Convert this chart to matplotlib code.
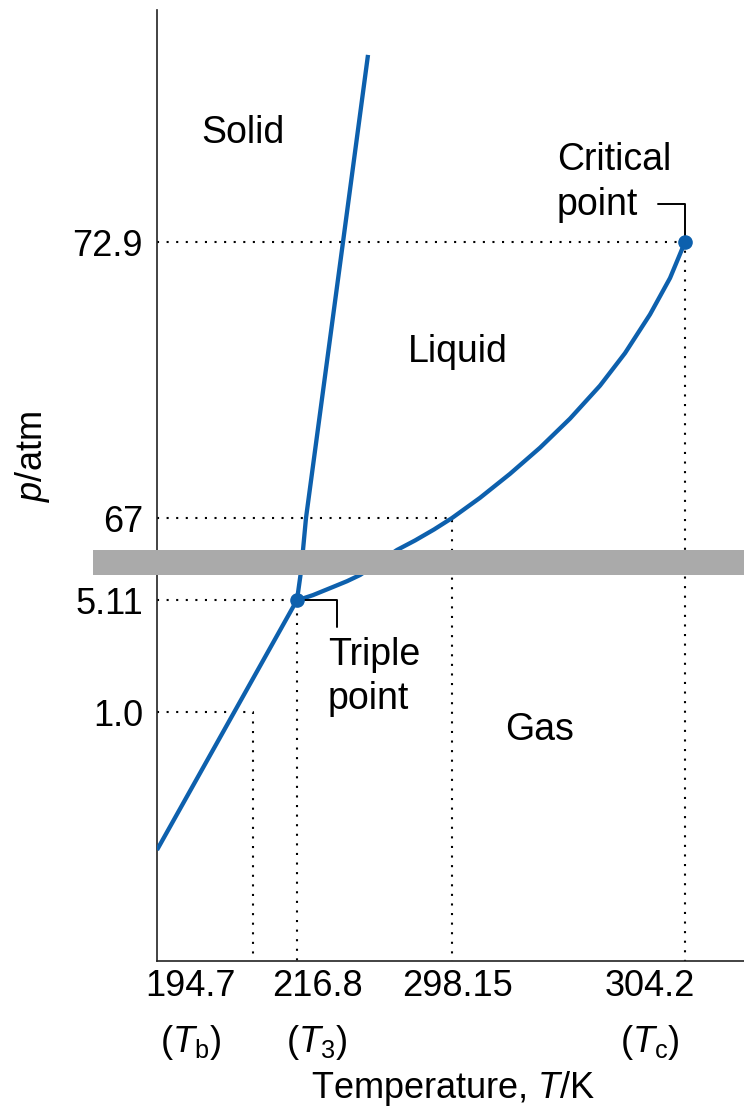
import numpy as np
import matplotlib
matplotlib.use('Agg')
import matplotlib.pyplot as plt
import matplotlib.transforms as mtransforms
from matplotlib.patches import Rectangle

plt.rcParams['font.family'] = ['Liberation Sans', 'DejaVu Sans']
plt.rcParams['mathtext.fontset'] = 'custom'
plt.rcParams['mathtext.rm'] = 'Liberation Sans'
plt.rcParams['mathtext.it'] = 'Liberation Sans:italic'

# characteristic points of CO2 (K, atm)
T_b, p_b = 194.7, 1.0
T_3, p_3 = 216.8, 5.11
T_room, p_room = 298.15, 67.0
T_c, p_c = 304.2, 72.9

# phase boundaries
sub_T = [146.5, 185.3, 216.8]
sub_p = [0.446, 1.0, 5.11]

melt_T = [216.8, 218.64, 219.95, 221.52, 240.94, 254.06]
melt_p = [5.11, 6.03, 66.32, 67.0, 72.9, 76.9]

vap_T = [216.8, 220.5, 225.2, 235.7, 243.0, 249.9,
         269.28, 278.73, 288.70, 298.15, 298.877, 299.656, 300.435,
         301.214, 301.993, 302.642, 303.291, 303.811, 304.2]
vap_p = [5.11, 5.18, 5.29, 5.59, 5.80, 6.03,
         66.32, 66.522, 66.756, 67.0, 67.432, 67.945, 68.503,
         69.125, 69.830, 70.525, 71.352, 72.130, 72.9]

# tick values and labels
xtick_vals = [T_b, T_3, T_room, T_c]
xtick_top = ['194.7', '216.8', '298.15', '304.2']
xtick_sub = ['($T_{\\mathrm{b}}$)', '($T_{\\mathrm{3}}$)', '', '($T_{\\mathrm{c}}$)']
ytick_vals = [p_b, p_3, p_room, p_c]
ytick_labels = ['1.0', '5.11', '67', '72.9']

# schematic (non-linear) axes: knot values and where they sit on the axis
T_knots = [146.5, 194.7, 216.8, 298.15, 304.2, 305.7]
T_frac = [0.0, 0.1635, 0.2385, 0.5026, 0.8995, 1.0]
p_knots = [0.0, 1.0, 5.11, 6.03, 66.32, 67.0, 72.9, 77.86]
p_frac = [0.0, 0.2618, 0.3796, 0.4059, 0.4322, 0.4658, 0.7560, 1.0]
break_lo, break_hi = 6.03, 66.32

blue = '#0d60ad'

fig = plt.figure(figsize=(7.44, 11.11), dpi=100)
ax = fig.add_axes([157 / 744, 150 / 1111, 587 / 744, 951 / 1111])

ax.set_xscale('function', functions=(lambda v: np.interp(v, T_knots, T_frac),
                                     lambda f: np.interp(f, T_frac, T_knots)))
ax.set_yscale('function', functions=(lambda v: np.interp(v, p_knots, p_frac),
                                     lambda f: np.interp(f, p_frac, p_knots)))
ax.set_xlim(T_knots[0], T_knots[-1])
ax.set_ylim(p_knots[0], p_knots[-1])

# dotted guide lines
for T, p in zip(xtick_vals, ytick_vals):
    ax.plot([T_knots[0], T, T], [p, p, p_knots[0]], color='black', lw=1.5,
            linestyle=(0, (1, 3.6)), zorder=1, clip_on=False)

ax.plot(sub_T, sub_p, color=blue, lw=3.1, zorder=3, solid_capstyle='butt')
ax.plot(melt_T, melt_p, color=blue, lw=3.1, zorder=3, solid_capstyle='butt')
ax.plot(vap_T, vap_p, color=blue, lw=3.1, zorder=3, solid_capstyle='butt',
        solid_joinstyle='round')
ax.plot([T_3, T_c], [p_3, p_c], 'o', color=blue, ms=9.5, zorder=5, clip_on=False)

# leader lines
ax.annotate('', xy=(T_c, p_c), xytext=(-27, 38), textcoords='offset pixels',
            arrowprops=dict(arrowstyle='-', lw=1.4, color='black', shrinkA=0, shrinkB=0,
                            connectionstyle='angle,angleA=0,angleB=90,rad=0'), zorder=4)
ax.annotate('', xy=(T_3, p_3), xytext=(40, -27), textcoords='offset pixels',
            arrowprops=dict(arrowstyle='-', lw=1.4, color='black', shrinkA=0, shrinkB=0,
                            connectionstyle='angle,angleA=90,angleB=0,rad=0'), zorder=4)

# region labels
ax.text(0.1465, 0.8707, 'Solid', transform=ax.transAxes, fontsize=27, ha='center', va='center')
ax.text(0.5128, 0.6404, 'Liquid', transform=ax.transAxes, fontsize=27, ha='center', va='center')
ax.text(0.6525, 0.2429, 'Gas', transform=ax.transAxes, fontsize=27, ha='center', va='center')
ax.text(0.6814, 0.8190, 'Critical\npoint', transform=ax.transAxes, fontsize=27,
        ha='left', va='center', linespacing=1.32)
ax.text(0.2913, 0.2985, 'Triple\npoint', transform=ax.transAxes, fontsize=27,
        ha='left', va='center', linespacing=1.28)

# axes styling
for side in ['top', 'right']:
    ax.spines[side].set_visible(False)
for side in ['left', 'bottom']:
    ax.spines[side].set_linewidth(1.2)
    ax.spines[side].set_color('#222222')

ax.set_yticks(ytick_vals, ytick_labels, fontsize=26)
ax.tick_params(axis='y', length=0, pad=10)
ax.set_xticks(xtick_vals, [''] * len(xtick_vals))
ax.tick_params(axis='x', length=0)

# x tick labels sit a little off their guide lines
x_offsets = [-62, 20, 5, -35]
for T, top, sub, dx in zip(xtick_vals, xtick_top, xtick_sub, x_offsets):
    ax.annotate(top, xy=(T, 0), xycoords=('data', 'axes fraction'), xytext=(dx, -26),
                textcoords='offset pixels', ha='center', va='center', fontsize=26,
                annotation_clip=False)
    if sub:
        ax.annotate(sub, xy=(T, 0), xycoords=('data', 'axes fraction'), xytext=(dx, -82),
                    textcoords='offset pixels', ha='center', va='center', fontsize=26,
                    annotation_clip=False)

fig.text(453 / 744, 1 - 1088 / 1111, 'Temperature, $T$/K', fontsize=26, ha='center', va='center')
fig.text(32 / 744, 1 - 457 / 1111, '$p$/atm', fontsize=26, ha='center', va='center', rotation=90)

# axis break band
band = Rectangle((93 / 744, break_lo), 1 - 93 / 744, break_hi - break_lo,
                 transform=mtransforms.blended_transform_factory(fig.transFigure, ax.transData),
                 facecolor='#aaaaaa', edgecolor='none', zorder=10)
fig.add_artist(band)

fig.savefig('out.png', dpi=100)
